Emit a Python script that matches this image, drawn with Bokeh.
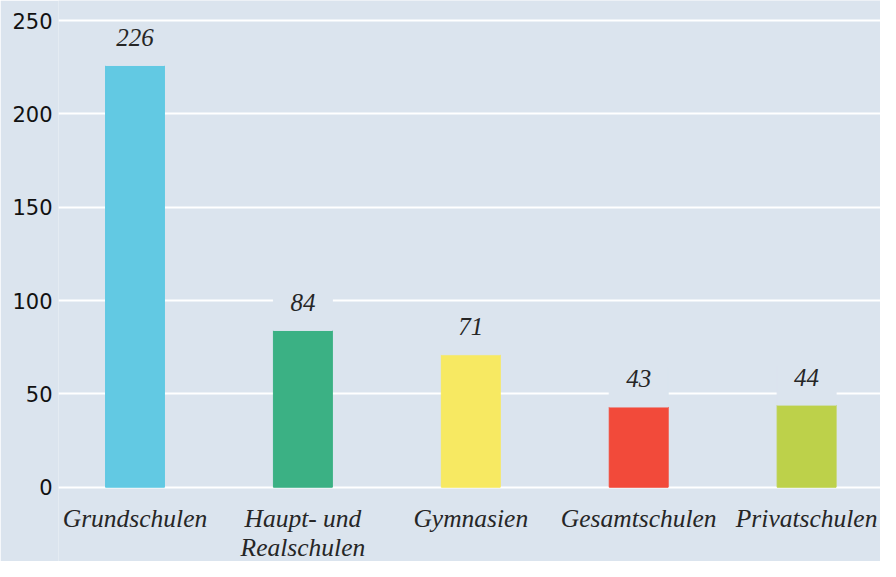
from bokeh.plotting import figure
from bokeh.models import Range1d, FixedTicker, ColumnDataSource, LabelSet
from bokeh.core.properties import value
from bokeh.embed import file_html
from bokeh.resources import INLINE

categories = ["Grundschulen", "Haupt- und\nRealschulen", "Gymnasien", "Gesamtschulen", "Privatschulen"]
counts = [226, 84, 71, 43, 44]
colors = ["#62c9e3", "#3bb184", "#f7e962", "#f24a3a", "#bdd14a"]
y_ticks = [0, 50, 100, 150, 200, 250]

BG = "#dbe4ee"
TXT = "#262626"
xs = list(range(len(categories)))

p = figure(width=880, height=561, output_backend="svg", toolbar_location=None,
           x_range=Range1d(-0.4556, 4.44), y_range=Range1d(-39.8, 260.8),
           min_border_left=58, min_border_right=0, min_border_top=0, min_border_bottom=0)
p.background_fill_color = BG
p.border_fill_color = BG
p.outline_line_color = None

src = ColumnDataSource(dict(x=xs, top=counts, color=colors,
                            mask_top=[c + 21 for c in counts],
                            label_y=[c + 15 for c in counts],
                            label=[str(c) for c in counts]))

p.vbar(x="x", top="top", bottom=0, width=0.351, color="color", source=src)
p.vbar(x="x", top="mask_top", bottom="top", width=0.351, color=BG, source=src)
p.text(x="x", y="label_y", text="label", source=src, text_align="center", text_baseline="middle",
       text_font=value("Liberation Serif"), text_font_style="italic", text_font_size="25px",
       text_color=TXT)

# category labels, one entry per line so each line is centred
line_x, line_y, line_t = [], [], []
for i, c in zip(xs, categories):
    for k, part in enumerate(c.split("\n")):
        line_x.append(i)
        line_y.append(-9 - k * 15.6)
        line_t.append(part)
cat_src = ColumnDataSource(dict(x=line_x, y=line_y, text=line_t))
p.add_layout(LabelSet(x="x", y="y", text="text", source=cat_src, text_align="center",
                      text_baseline="top", text_font="Liberation Serif", text_font_style="italic",
                      text_font_size="25.5px", text_color=TXT))

p.xgrid.grid_line_color = None
p.ygrid.grid_line_color = "white"
p.ygrid.grid_line_width = 2
p.ygrid.ticker = FixedTicker(ticks=y_ticks)
p.ygrid.bounds = (-0.392, 4.44)

p.xaxis.visible = False

p.yaxis.ticker = FixedTicker(ticks=y_ticks)
p.yaxis.axis_line_color = None
p.yaxis.major_tick_line_color = None
p.yaxis.minor_tick_line_color = None
p.yaxis.major_tick_out = 0
p.yaxis.major_tick_in = 0
p.yaxis.minor_tick_out = 0
p.yaxis.major_label_standoff = 6
p.yaxis.major_label_text_font = "DejaVu Sans"
p.yaxis.major_label_text_font_size = "21px"
p.yaxis.major_label_text_color = "#111111"

open("out.html", "w").write(file_html(p, INLINE))
